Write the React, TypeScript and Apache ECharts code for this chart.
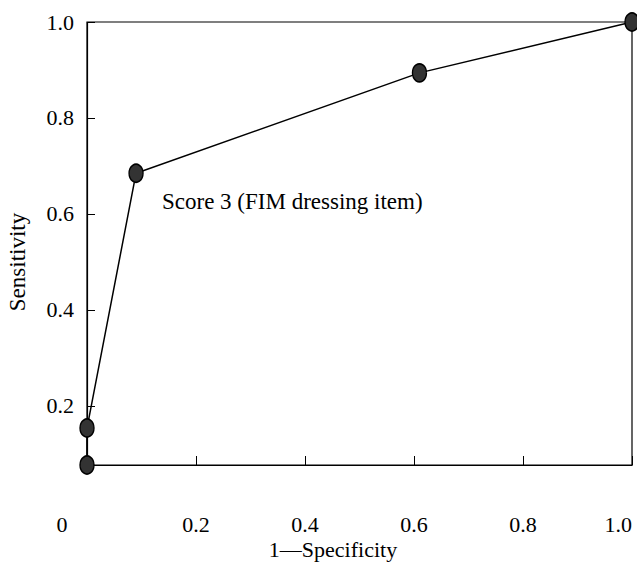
import React, { useEffect, useRef } from "react";
import * as echarts from "echarts";

const fpr = [0, 0, 0.09, 0.61, 1.0];
const sensitivity = [0, 0.154, 0.685, 0.894, 1.0];
const yTicks = [0.2, 0.4, 0.6, 0.8, 1.0];
const xTicks = [0.2, 0.4, 0.6, 0.8, 1.0];
const annotation = "Score 3 (FIM dressing item)";
const xName = "1\u2014Specificity";
const yName = "Sensitivity";

const FONT = "Liberation Serif";

export default function App() {
  const ref = useRef<HTMLDivElement>(null);
  useEffect(() => {
    const chart = echarts.init(ref.current!, null, { renderer: "svg" });
    chart.setOption({
      animation: false,
      backgroundColor: "#fff",
      textStyle: { fontFamily: FONT },
      grid: {
        left: 87,
        right: 5,
        top: 22,
        bottom: 101,
        outerBoundsMode: "none",
        containLabel: false,
        show: true,
        borderColor: "#000",
        borderWidth: 1.2,
      },
      xAxis: {
        type: "value",
        min: 0,
        max: 1,
        interval: 0.2,
        axisLine: { show: true, lineStyle: { color: "#000", width: 1.2 } },
        axisTick: { show: true, inside: true, length: 9, lineStyle: { color: "#000" }, customValues: xTicks },
        splitLine: { show: false },
        axisLabel: {
          margin: 48,
          fontFamily: FONT,
          fontSize: 22,
          color: "#000",
          customValues: xTicks,
          alignMaxLabel: "right",
          formatter: (v: number) => v.toFixed(1),
        },
      },
      yAxis: {
        type: "value",
        min: 0,
        max: 1,
        interval: 0.2,
        breaks: [{ start: 0, end: 0.077, gap: 0 }],
        breakArea: { show: false },
        axisLine: { show: true, lineStyle: { color: "#000", width: 1.2 } },
        axisTick: { show: true, inside: true, length: 8, lineStyle: { color: "#000" }, customValues: yTicks },
        splitLine: { show: false },
        axisLabel: {
          margin: 13,
          fontFamily: FONT,
          fontSize: 22,
          color: "#000",
          customValues: yTicks,
          hideOverlap: false,
          formatter: (v: number) => v.toFixed(1),
        },
      },
      graphic: [
        {
          type: "text",
          x: 62,
          y: 524,
          style: { text: "0", fontFamily: FONT, fontSize: 22, fill: "#000", align: "center", verticalAlign: "middle" },
        },
        {
          type: "text",
          x: 162,
          y: 201,
          style: { text: annotation, fontFamily: FONT, fontSize: 23, fill: "#000", align: "left", verticalAlign: "middle" },
        },
        {
          type: "text",
          x: 333,
          y: 549,
          style: { text: xName, fontFamily: FONT, fontSize: 22, fill: "#000", align: "center", verticalAlign: "middle" },
        },
        {
          type: "text",
          x: 17,
          y: 262,
          rotation: Math.PI / 2,
          style: { text: yName, fontFamily: FONT, fontSize: 23, fill: "#000", align: "center", verticalAlign: "middle" },
        },
      ],
      series: [
        {
          type: "line",
          data: fpr.map((x, i) => [x, sensitivity[i]]),
          symbol: "circle",
          symbolSize: [14, 18],
          clip: false,
          lineStyle: { color: "#000", width: 1.5 },
          itemStyle: { color: "#333", borderColor: "#000", borderWidth: 1.5 },
          z: 5,
        },
      ],
    });
    return () => chart.dispose();
  }, []);
  return <div ref={ref} style={{ width: 637, height: 566, position: "absolute", left: 0, top: 0 }} />;
}
